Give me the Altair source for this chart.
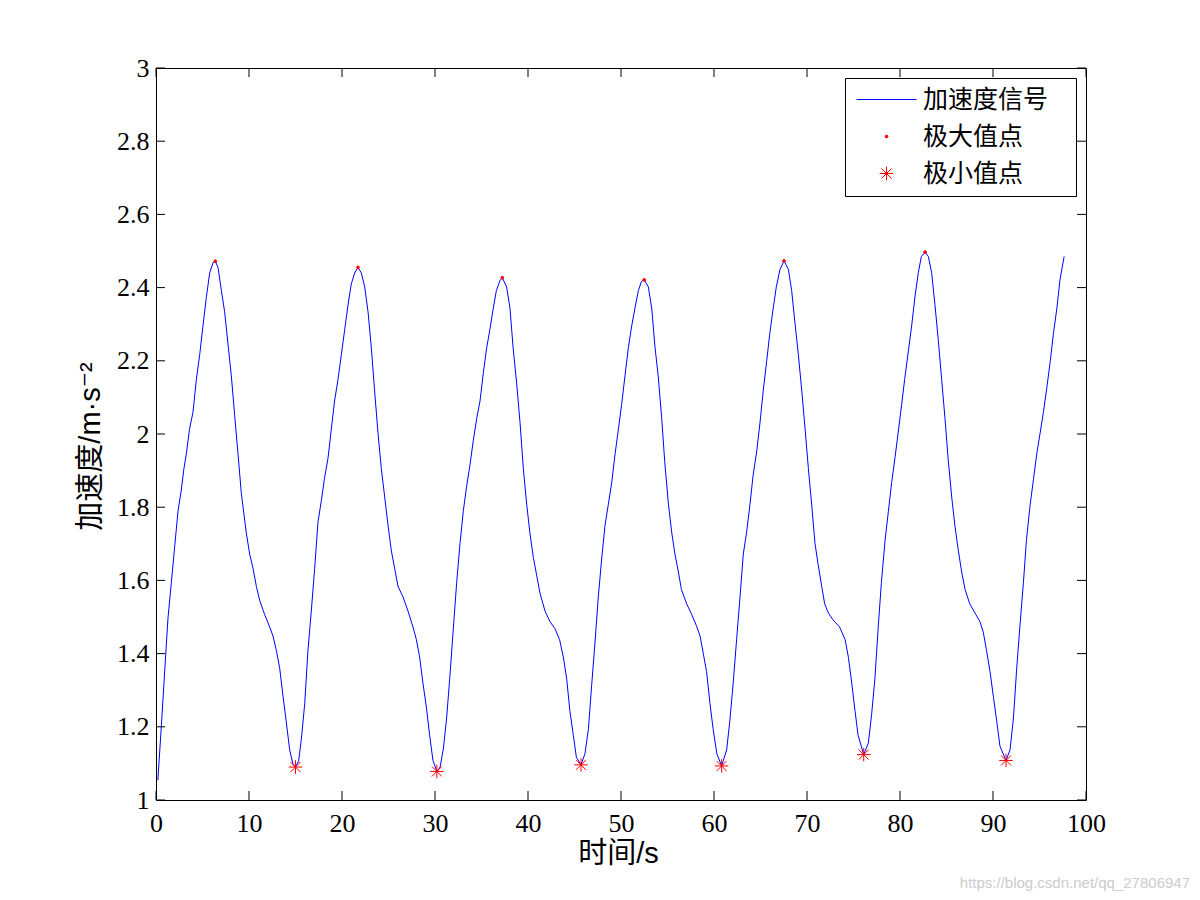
import altair as alt
import pandas as pd

# ---------------- data ----------------
time_s = [0.2, 0.57, 0.93, 1.29, 1.65, 2.0, 2.37, 2.72, 3.0, 3.26, 3.6, 3.98, 4.34, 4.7, 5.05, 5.41, 5.77, 6.13, 6.38,
          6.67, 7.03, 7.38, 7.74, 8.1, 8.46, 8.82, 9.18, 9.71, 10.07, 10.43, 10.79, 11.15, 11.68, 12.22, 12.58, 12.94,
          13.3, 13.66, 14.0, 14.37, 14.73, 15.0, 15.34, 15.63, 15.99, 16.34, 16.7, 17.06, 17.42, 17.78, 18.1, 18.5,
          18.85, 19.2, 19.57, 19.93, 20.29, 20.65, 21.0, 21.36, 21.72, 22.08, 22.44, 22.8, 23.15, 23.5, 23.87, 24.23,
          24.59, 24.95, 25.3, 25.66, 26.02, 26.56, 27.1, 27.63, 28.0, 28.35, 28.7, 29.07, 29.43, 29.78, 30.2, 30.55,
          30.9, 31.25, 31.61, 31.97, 32.33, 32.69, 33.04, 33.4, 33.76, 34.12, 34.48, 34.84, 35.2, 35.56, 35.9, 36.27,
          36.6, 37.0, 37.24, 37.7, 38.06, 38.4, 38.78, 39.14, 39.5, 39.86, 40.2, 40.58, 40.93, 41.29, 41.83, 42.37,
          42.9, 43.4, 43.8, 44.16, 44.5, 44.88, 45.2, 45.7, 46.13, 46.5, 46.84, 47.2, 47.56, 47.9, 48.28, 48.64, 49.0,
          49.36, 49.72, 50.07, 50.43, 50.79, 51.15, 51.5, 51.87, 52.2, 52.5, 52.94, 53.3, 53.66, 54.0, 54.38, 54.7,
          55.1, 55.46, 55.8, 56.17, 56.5, 57.06, 57.6, 58.1, 58.5, 58.85, 59.2, 59.57, 59.9, 60.3, 60.82, 61.36, 61.7,
          62.07, 62.43, 62.8, 63.15, 63.5, 63.87, 64.2, 64.6, 64.95, 65.3, 65.66, 66.0, 66.37, 66.7, 67.1, 67.53, 68.0,
          68.35, 68.7, 69.07, 69.43, 69.8, 70.15, 70.5, 70.86, 71.2, 71.58, 71.9, 72.3, 72.8, 73.5, 74.1, 74.45, 74.8,
          75.16, 75.5, 76.1, 76.6, 76.95, 77.3, 77.67, 78.0, 78.4, 78.75, 79.1, 79.46, 79.8, 80.18, 80.5, 80.9, 81.25,
          81.6, 81.97, 82.3, 82.7, 83.05, 83.4, 83.76, 84.12, 84.48, 84.84, 85.2, 85.56, 85.9, 86.27, 86.63, 87.0,
          87.5, 88.06, 88.6, 88.96, 89.3, 89.68, 90.04, 90.4, 90.75, 91.4, 91.83, 92.2, 92.55, 92.9, 93.27, 93.6,
          94.0, 94.35, 94.7, 95.07, 95.43, 95.8, 96.15, 96.5, 96.87, 97.2, 97.65]
accel = [1.054, 1.2, 1.35, 1.497, 1.594, 1.69, 1.79, 1.847, 1.905, 1.945, 2.013, 2.06, 2.149, 2.217, 2.295, 2.373, 2.44,
         2.468, 2.472, 2.455, 2.392, 2.334, 2.246, 2.159, 2.05, 1.945, 1.837, 1.73, 1.672, 1.633, 1.584, 1.545, 1.507,
         1.473, 1.448, 1.409, 1.36, 1.283, 1.215, 1.137, 1.098, 1.09, 1.107, 1.166, 1.263, 1.409, 1.516, 1.633, 1.76,
         1.818, 1.876, 1.935, 2.013, 2.09, 2.149, 2.217, 2.285, 2.353, 2.41, 2.44, 2.455, 2.44, 2.402, 2.334, 2.237,
         2.12, 2.003, 1.905, 1.828, 1.75, 1.682, 1.633, 1.584, 1.555, 1.516, 1.473, 1.438, 1.39, 1.32, 1.254, 1.176,
         1.108, 1.078, 1.09, 1.14, 1.224, 1.341, 1.468, 1.594, 1.701, 1.789, 1.857, 1.915, 1.983, 2.042, 2.09, 2.168,
         2.236, 2.285, 2.344, 2.392, 2.42, 2.427, 2.402, 2.344, 2.236, 2.139, 2.032, 1.905, 1.808, 1.73, 1.662, 1.614,
         1.565, 1.516, 1.487, 1.468, 1.438, 1.39, 1.331, 1.244, 1.176, 1.117, 1.096, 1.127, 1.195, 1.312, 1.429, 1.555,
         1.653, 1.75, 1.808, 1.867, 1.945, 2.013, 2.081, 2.159, 2.236, 2.295, 2.344, 2.392, 2.417, 2.421, 2.402, 2.344,
         2.236, 2.159, 2.042, 1.925, 1.808, 1.73, 1.672, 1.623, 1.575, 1.536, 1.507, 1.477, 1.448, 1.4, 1.351, 1.263,
         1.195, 1.127, 1.093, 1.137, 1.215, 1.322, 1.438, 1.555, 1.672, 1.73, 1.808, 1.886, 1.954, 2.032, 2.12, 2.198,
         2.275, 2.344, 2.402, 2.45, 2.473, 2.45, 2.392, 2.305, 2.217, 2.12, 2.013, 1.905, 1.808, 1.701, 1.643, 1.584,
         1.536, 1.511, 1.492, 1.473, 1.438, 1.39, 1.322, 1.244, 1.176, 1.124, 1.156, 1.234, 1.331, 1.477, 1.594, 1.711,
         1.789, 1.867, 1.935, 2.003, 2.081, 2.149, 2.227, 2.295, 2.373, 2.441, 2.485, 2.497, 2.485, 2.441, 2.353,
         2.256, 2.149, 2.042, 1.925, 1.828, 1.75, 1.682, 1.623, 1.575, 1.536, 1.511, 1.487, 1.458, 1.409, 1.351, 1.283,
         1.215, 1.147, 1.108, 1.137, 1.224, 1.36, 1.477, 1.594, 1.711, 1.808, 1.876, 1.945, 2.003, 2.061, 2.129, 2.198,
         2.275, 2.344, 2.421, 2.485]

max_t = [6.38, 21.72, 37.24, 52.5, 67.53, 82.7]
max_a = [2.472, 2.455, 2.427, 2.421, 2.473, 2.497]
min_t = [15.0, 30.2, 45.7, 60.82, 76.1, 91.4]
min_a = [1.09, 1.078, 1.096, 1.093, 1.124, 1.108]

series_names = ["加速度信号", "极大值点", "极小值点"]
x_ticks = [0, 10, 20, 30, 40, 50, 60, 70, 80, 90, 100]
y_ticks = [1, 1.2, 1.4, 1.6, 1.8, 2, 2.2, 2.4, 2.6, 2.8, 3]

x_title = "时间/s"
y_title = "加速度/m·s⁻²"
watermark = "https://blog.csdn.net/qq_27806947"

# ---------------- chart ----------------
W, H = 930, 732
TICK = 9
SERIF = "Liberation Serif"
TITLE_FONT = "Liberation Sans, DejaVu Sans, Noto Sans CJK SC"
CJK = "Noto Sans CJK SC, DejaVu Sans"

line_df = pd.DataFrame({"t": time_s, "a": accel})
pts_df = pd.DataFrame({
    "t": max_t + min_t,
    "a": max_a + min_a,
    "kind": [series_names[1]] * len(max_t) + [series_names[2]] * len(min_t),
})
xt_df = pd.DataFrame({"t": x_ticks})
yt_df = pd.DataFrame({"a": y_ticks})

xscale = alt.Scale(domain=[0, 100], nice=False, zero=False)
yscale = alt.Scale(domain=[1, 3], nice=False, zero=False)

x_axis = alt.Axis(values=x_ticks, tickSize=0, domain=False, grid=False,
                  labelFont=SERIF, labelFontSize=26, labelColor="black", labelPadding=10,
                  labelFlush=False, labelOverlap=False,
                  title=x_title, titleFont=TITLE_FONT, titleFontSize=29, titleFontWeight="normal",
                  titleColor="black", titlePadding=3, titleX=462)
y_axis = alt.Axis(values=y_ticks, tickSize=0, domain=False, grid=False, format="~g",
                  labelFont=SERIF, labelFontSize=26, labelColor="black", labelPadding=7,
                  labelOverlap=False,
                  title=y_title, titleFont=TITLE_FONT, titleFontSize=29, titleFontWeight="normal",
                  titleColor="black", titlePadding=11, titleY=378)

X = alt.X("t:Q", scale=xscale, axis=x_axis)
Y = alt.Y("a:Q", scale=yscale, axis=y_axis)

line = alt.Chart(line_df).mark_line(color="#0000ff", strokeWidth=1).encode(x=X, y=Y)

# symbol paths in the unit box [-1, 1]; all symbols drawn with size 400 (20 px box)
line_sym = "M-3,0L3,0"
dot_sym = "M-0.14,0A0.14,0.14 0 1,0 0.14,0A0.14,0.14 0 1,0 -0.14,0Z"
star_sym = "M-0.68,0L0.68,0M0,-0.68L0,0.68M-0.5,-0.5L0.5,0.5M-0.5,0.5L0.5,-0.5"

# a blank (non-whitespace) glyph after each label keeps the right margin of the legend box
legend = alt.Legend(title=None, orient="top-right", offset=10,
                    strokeColor="black", fillColor="white", padding=9,
                    labelFont=CJK, labelFontSize=25, labelColor="black",
                    labelExpr="datum.label + '\u2800'",
                    symbolSize=400, symbolOffset=20, labelOffset=24, rowPadding=11,
                    symbolStrokeWidth=1, symbolFillColor="#ff0000")

points = alt.Chart(pts_df).mark_point(filled=False, fill="#ff0000", strokeWidth=1, opacity=1, size=400).encode(
    x=X, y=Y,
    color=alt.Color("kind:N", scale=alt.Scale(domain=series_names, range=["#0000ff", "#ff0000", "#ff0000"]),
                    legend=legend),
    shape=alt.Shape("kind:N", scale=alt.Scale(domain=series_names, range=[line_sym, dot_sym, star_sym]),
                    legend=legend),
)

bottom_ticks = alt.Chart(xt_df).mark_rule(color="black", strokeWidth=1).encode(
    x=X, y=alt.value(H), y2=alt.value(H - TICK))
top_ticks = alt.Chart(xt_df).mark_rule(color="black", strokeWidth=1).encode(
    x=X, y=alt.value(0), y2=alt.value(TICK))
left_ticks = alt.Chart(yt_df).mark_rule(color="black", strokeWidth=1).encode(
    y=Y, x=alt.value(0), x2=alt.value(TICK))
right_ticks = alt.Chart(yt_df).mark_rule(color="black", strokeWidth=1).encode(
    y=Y, x=alt.value(W), x2=alt.value(W - TICK))

chart = alt.layer(line, points, bottom_ticks, top_ticks, left_ticks, right_ticks).properties(
    width=W, height=H,
    autosize=alt.AutoSizeParams(type="none"),
    padding={"left": 148, "top": 60, "right": 106, "bottom": 92},
    background="white",
    title=alt.TitleParams(watermark, orient="bottom", anchor="end", frame="group",
                          font="Liberation Sans", fontSize=15, fontWeight="normal",
                          color="#cccccc", dx=104, dy=4),
).configure_view(stroke="black", strokeWidth=1)

chart.save("out.html", embed_options={"renderer": "svg", "actions": False})
